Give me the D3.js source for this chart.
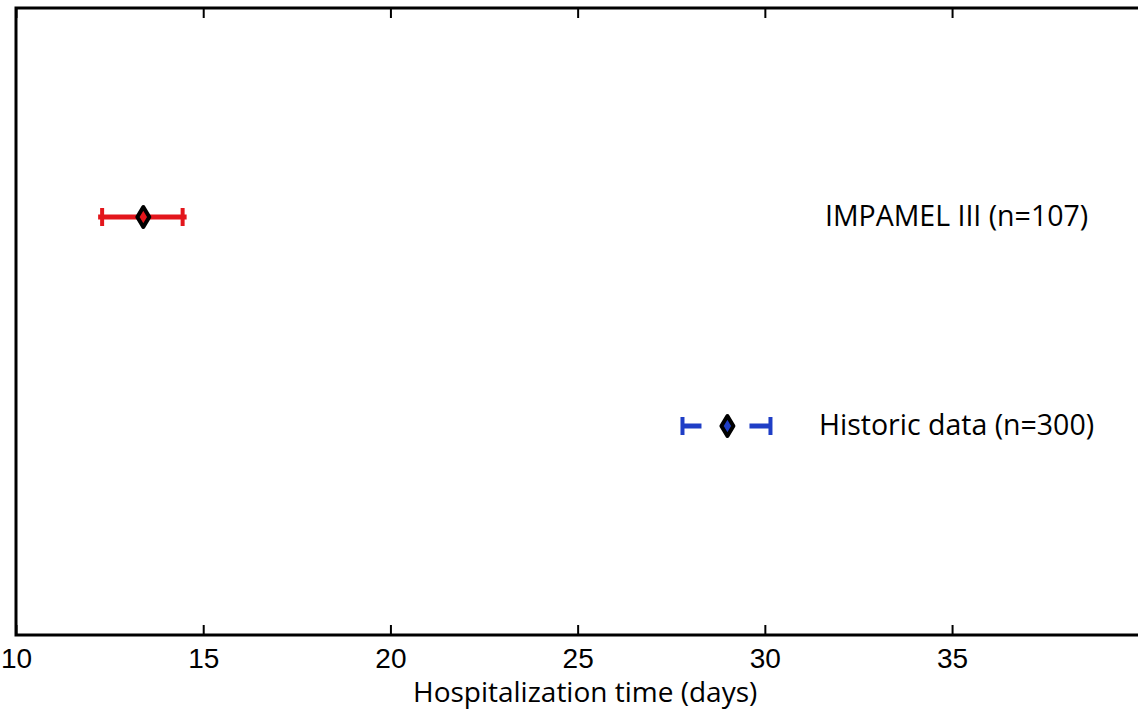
<!DOCTYPE html>
<html>
<head>
<meta charset="utf-8">
<script src="https://cdn.jsdelivr.net/npm/d3@7"></script>
<style>
  body { margin: 0; background: #fff; }
  svg { display: block; font-family: "Open Sans", sans-serif; }
</style>
</head>
<body>
<svg id="chart"></svg>
<script>
// data
const groups = ['IMPAMEL III (n=107)', 'Historic data (n=300)'];
const rows = [2, 1];
const means = [13.4, 29.0];
const lower = [12.3, 27.8];
const upper = [14.45, 30.15];
const colors = ['#e3161c', '#1f3ec6'];
const xTicks = [10, 15, 20, 25, 30, 35];
const xLabel = 'Hospitalization time (days)';

const width = 1138, height = 712;
const margin = {top: 8, right: -20, bottom: 77, left: 16};

const svg = d3.select('#chart')
    .attr('width', width)
    .attr('height', height);

const x = d3.scaleLinear()
    .domain([10, 40.5])
    .range([margin.left, width - margin.right]);

const y = d3.scaleLinear()
    .domain([0, 3])
    .range([height - margin.bottom, margin.top]);

// ticks, pointing inward, bottom and top
svg.append('g')
    .attr('transform', `translate(0,${y(0)})`)
    .call(d3.axisBottom(x).tickValues(xTicks).tickSize(-10).tickPadding(13).tickFormat(d3.format('d')))
    .call(g => g.select('.domain').remove())
    .call(g => g.selectAll('line').attr('stroke', '#000').attr('stroke-width', 2))
    .call(g => g.selectAll('text').attr('font-size', 28).attr('fill', '#000'));

svg.append('g')
    .attr('transform', `translate(0,${y(3)})`)
    .call(d3.axisTop(x).tickValues(xTicks).tickSize(-10).tickFormat(''))
    .call(g => g.select('.domain').remove())
    .call(g => g.selectAll('line').attr('stroke', '#000').attr('stroke-width', 2));

// frame
svg.append('rect')
    .attr('x', x(10))
    .attr('y', y(3))
    .attr('width', x(40.5) - x(10))
    .attr('height', y(0) - y(3))
    .attr('fill', 'none')
    .attr('stroke', '#000')
    .attr('stroke-width', 3);

svg.append('text')
    .attr('x', x(25.2))
    .attr('y', height - 10)
    .attr('text-anchor', 'middle')
    .attr('font-size', 28)
    .attr('fill', '#000')
    .text(xLabel);

// error bars
const data = groups.map((g, i) => ({name: g, row: rows[i], mean: means[i], lo: lower[i], hi: upper[i], color: colors[i]}));

const bars = svg.append('g')
    .selectAll('g')
    .data(data)
    .join('g');

// red is solid, blue is broken around the marker
bars.append('line')
    .attr('x1', (d, i) => i === 1 ? x(d.lo) : x(d.lo) - 4)
    .attr('x2', (d, i) => i === 1 ? x(d.hi) : x(d.hi) + 4)
    .attr('y1', d => y(d.row))
    .attr('y2', d => y(d.row))
    .attr('stroke', d => d.color)
    .attr('stroke-width', 5)
    .attr('stroke-dasharray', (d, i) => i === 1 ? '19,48,30' : null);

bars.selectAll('.cap')
    .data(d => [d.lo, d.hi].map(v => ({v, d})))
    .join('line')
    .attr('class', 'cap')
    .attr('x1', c => x(c.v))
    .attr('x2', c => x(c.v))
    .attr('y1', c => y(c.d.row) - 9)
    .attr('y2', c => y(c.d.row) + 9)
    .attr('stroke', c => c.d.color)
    .attr('stroke-width', 4);

// mean marker, tall diamond
bars.append('path')
    .attr('transform', d => `translate(${x(d.mean)},${y(d.row)})`)
    .attr('d', 'M0,-10L6,0L0,10L-6,0Z')
    .attr('fill', d => d.color)
    .attr('stroke', '#000')
    .attr('stroke-width', 4)
    .attr('stroke-linejoin', 'round');

bars.append('text')
    .attr('x', x(35.12))
    .attr('y', d => y(d.row))
    .attr('dy', '0.3em')
    .attr('text-anchor', 'middle')
    .attr('font-size', 28.5)
    .attr('fill', '#000')
    .text(d => d.name);
</script>
</body>
</html>
